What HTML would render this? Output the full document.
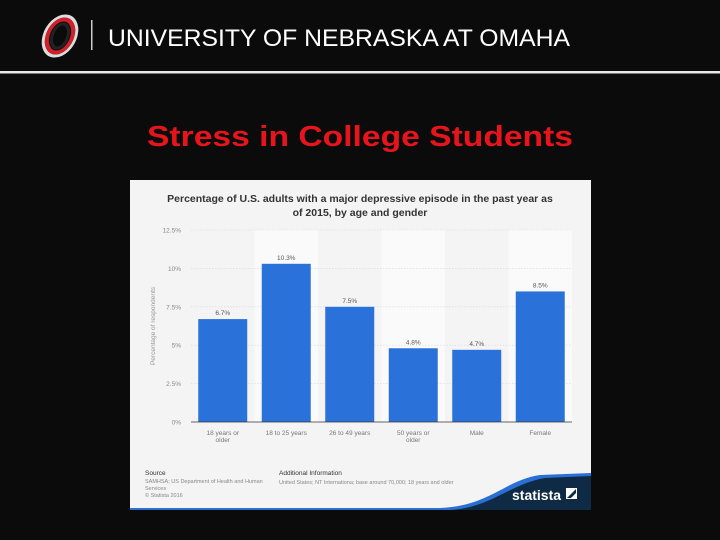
<!DOCTYPE html>
<html><head><meta charset="utf-8"><style>
html,body{margin:0;padding:0;background:#0b0b0b;width:720px;height:540px;overflow:hidden;font-family:"Liberation Sans",sans-serif}
</style></head><body>
<svg width="720" height="540" viewBox="0 0 720 540" xmlns="http://www.w3.org/2000/svg">
<rect width="720" height="540" fill="#0b0b0b"/>
<g transform="translate(60,36) skewX(-14)">
<ellipse cx="0" cy="0" rx="16" ry="20" fill="none" stroke="#ddd" stroke-width="3"/>
<ellipse cx="0" cy="0" rx="12.5" ry="16.5" fill="none" stroke="#d0202a" stroke-width="4"/>
<ellipse cx="0" cy="0" rx="8" ry="12" fill="none" stroke="#222" stroke-width="3"/>
</g>
<rect x="91" y="20" width="1.5" height="30" fill="#ccc"/>
<text x="108" y="46" font-size="24.5" fill="#fff" font-family="Liberation Sans" textLength="462" lengthAdjust="spacingAndGlyphs">UNIVERSITY OF NEBRASKA AT OMAHA</text>
<rect x="0" y="71" width="720" height="2.5" fill="#e6e6e6"/>
<text x="360" y="146" font-size="29" font-weight="bold" fill="#e8141c" text-anchor="middle" textLength="426" lengthAdjust="spacingAndGlyphs">Stress in College Students</text>
<g id="chart">
<rect x="130" y="180" width="461" height="330" fill="#f4f4f4"/>
<text x="360" y="202" font-size="10.5" font-weight="bold" fill="#333" text-anchor="middle">Percentage of U.S. adults with a major depressive episode in the past year as</text>
<text x="360" y="216" font-size="10.5" font-weight="bold" fill="#333" text-anchor="middle">of 2015, by age and gender</text>
<g id="cols"></g><g id="grid"></g><g id="bars"></g>
<text transform="translate(155,326) rotate(-90)" font-size="6.5" fill="#999" text-anchor="middle">Percentage of respondents</text>
<text x="145" y="475" font-size="6.5" fill="#333">Source</text>
<text x="145" y="483" font-size="5.5" fill="#888">SAMHSA; US Department of Health and Human</text>
<text x="145" y="490" font-size="5.5" fill="#888">Services</text>
<text x="145" y="497" font-size="5.5" fill="#888">© Statista 2016</text>
<text x="279" y="475" font-size="6.5" fill="#333">Additional Information</text>
<text x="279" y="484" font-size="5.5" fill="#888">United States; NT Internationa; base around 70,000; 18 years and older</text>
<path d="M130 508 L440 508 C490 506 505 480 540 475 L591 473 L591 510 L130 510 Z" fill="#2a6fd6"/>
<path d="M450 510 C490 508 510 484 545 478 L591 476 L591 510 Z" fill="#0f2a44"/>
<text x="512" y="500" font-size="14" font-weight="bold" fill="#fff">statista</text>
<path d="M566 488 h11 v11 h-11 z" fill="#fff"/>
<path d="M567 498 L576 489 L576 493 L571 498 Z" fill="#0f2a44"/>
</g>
</svg>
<script>
const categories=["18 years or|older","18 to 25 years","26 to 49 years","50 years or|older","Male","Female"];
const values=[6.7,10.3,7.5,4.8,4.7,8.5];
const valueLabels=["6.7%","10.3%","7.5%","4.8%","4.7%","8.5%"];
const ticks=[0,2.5,5,7.5,10,12.5];
const tickLabels=["0%","2.5%","5%","7.5%","10%","12.5%"];
const NS="http://www.w3.org/2000/svg";
const x0=191,x1=572,y0=422,yTop=230,maxV=12.5;
const band=(x1-x0)/categories.length;
const xPos=i=>x0+band*i;
const yPos=v=>y0-(v/maxV)*(y0-yTop);
function mk(t,a,p){const e=document.createElementNS(NS,t);for(const k in a)e.setAttribute(k,a[k]);p.appendChild(e);return e;}
const cols=document.getElementById('cols'),grid=document.getElementById('grid'),bars=document.getElementById('bars');
categories.forEach((c,i)=>{if(i%2==1){const r=mk('rect',{x:xPos(i),y:yTop,width:band,height:y0-yTop,fill:'#fafafa'},cols);

}});
ticks.forEach((t,i)=>{const y=yPos(t);
if(t>0){const l=mk('line',{x1:x0,x2:x1,y1:y,y2:y,stroke:'#d8d8d8','stroke-width':0.6,'stroke-dasharray':'1.5,1.5'},grid);

}
const tx=mk('text',{x:181,y:y+2.5,'font-size':6.5,fill:'#888','text-anchor':'end'},grid);tx.textContent=tickLabels[i];

});
values.forEach((v,i)=>{const bw=49,bx=xPos(i)+(band-bw)/2;
const r=mk('rect',{x:bx,y:yPos(v),width:bw,height:y0-yPos(v),fill:'#2a72d9'},bars);


const lb=mk('text',{x:bx+bw/2,y:yPos(v)-4,'font-size':6.5,fill:'#555','text-anchor':'middle'},bars);lb.textContent=valueLabels[i];


categories[i].split('|').forEach((s,j)=>{const t=mk('text',{x:bx+bw/2,y:435+j*7,'font-size':6.5,fill:'#777','text-anchor':'middle'},bars);t.textContent=s;

});});
const ax=mk('line',{x1:x0,x2:x1,y1:y0,y2:y0,stroke:'#333','stroke-width':0.8},bars);


</script>
</body></html>
